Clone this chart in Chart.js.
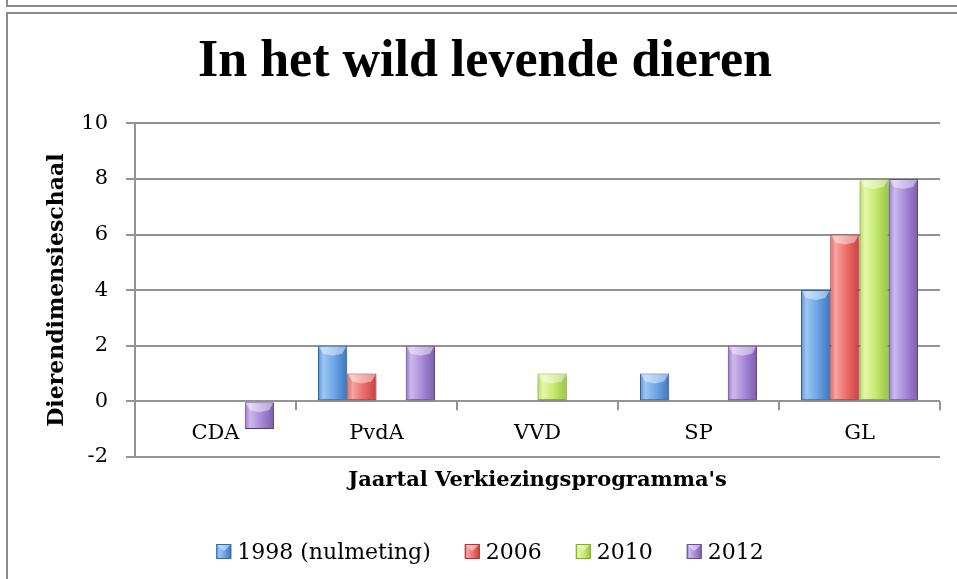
<!DOCTYPE html>
<html>
<head>
<meta charset="utf-8">
<script src="https://cdn.jsdelivr.net/npm/chart.js@4.4.1/dist/chart.umd.min.js"></script>
<style>
  html, body { margin: 0; padding: 0; background: #fff; }
  #wrap { position: relative; width: 957px; height: 579px; overflow: hidden; }
  .frame-top { position: absolute; left: 6px; top: -10px; width: 960px; height: 15px;
    border-left: 2px solid #8c8c8c; border-bottom: 2px solid #8c8c8c; }
  .frame-main { position: absolute; left: 6px; top: 12px; width: 960px; height: 600px;
    border-left: 2px solid #8c8c8c; border-top: 2px solid #8c8c8c; }
  #chart { position: absolute; left: 0; top: 0; }
</style>
</head>
<body>
<div id="wrap">
  <div class="frame-top"></div>
  <div class="frame-main"></div>
  <canvas id="chart" width="957" height="579"></canvas>
</div>
<script>
// ------------------ DATA ------------------
const categories = ["CDA", "PvdA", "VVD", "SP", "GL"];
const seriesNames = ["1998 (nulmeting)", "2006", "2010", "2012"];
const values1998 = [0, 2, 0, 1, 4];
const values2006 = [0, 1, 0, 0, 6];
const values2010 = [0, 0, 1, 0, 8];
const values2012 = [-1, 2, 0, 2, 8];
const yMin = -2;
const yMax = 10;
const yStep = 2;

// colours per series: [edge, light, mid, dark, border]
const palette = [
    ["#5a92d6", "#9cc6f2", "#6ea6e6", "#3d76c0", "#3a69a3"],
    ["#e06a67", "#f7a4a2", "#ec6e6b", "#c9403d", "#a8393a"],
    ["#b6db62", "#e2f7a6", "#c6ea72", "#98c443", "#86a83c"],
    ["#9478c6", "#cdb8ee", "#a98bd8", "#7b5cb0", "#6b5294"]
];

const textFont = "'DejaVu Serif', 'Liberation Serif', serif";
const titleFont = "'Liberation Serif', 'DejaVu Serif', serif";
const gridColor = "#939393";

// ------------------ HELPERS ------------------
function barGradient(ctx, l, r, c) {
    const g = ctx.createLinearGradient(l, 0, r, 0);
    g.addColorStop(0, c[0]);
    g.addColorStop(0.18, c[1]);
    g.addColorStop(0.55, c[2]);
    g.addColorStop(1, c[3]);
    return g;
}

function bevelTop(ctx, l, r, top, depth) {
    ctx.save();
    ctx.fillStyle = "rgba(255,255,255,0.45)";
    ctx.beginPath();
    ctx.moveTo(l, top + 1);
    ctx.lineTo(r, top + 1);
    ctx.lineTo(r - 4, top + depth);
    ctx.lineTo((l + r) / 2, top + depth + 2);
    ctx.lineTo(l + 4, top + depth);
    ctx.closePath();
    ctx.fill();
    ctx.restore();
}

// ------------------ PLUGINS ------------------
// gradient fill + soft shadow for the bars
const barLook = {
    id: "barLook",
    beforeDatasetsDraw(chart) {
        const ctx = chart.ctx;
        chart.data.datasets.forEach((ds, di) => {
            chart.getDatasetMeta(di).data.forEach(bar => {
                bar.options.backgroundColor = barGradient(ctx, bar.x - bar.width / 2, bar.x + bar.width / 2, palette[di]);
            });
        });
        ctx.save();
        ctx.shadowColor = "rgba(0,0,0,0.28)";
        ctx.shadowBlur = 6;
        ctx.shadowOffsetY = 4;
    },
    afterDatasetsDraw(chart) {
        const ctx = chart.ctx;
        ctx.restore();
        chart.data.datasets.forEach((ds, di) => {
            chart.getDatasetMeta(di).data.forEach((bar, i) => {
                const v = ds.data[i];
                if (!v) return;
                const top = v > 0 ? bar.y : bar.base;
                const depth = Math.min(8, Math.abs(bar.base - bar.y) / 2);
                bevelTop(ctx, bar.x - bar.width / 2 + 1, bar.x + bar.width / 2 - 1, top, depth);
            });
        });
    }
};

// category axis sits on the zero line, like the original
const zeroAxis = {
    id: "zeroAxis",
    afterDraw(chart) {
        const ctx = chart.ctx;
        const x = chart.scales.x;
        const y0 = chart.scales.y.getPixelForValue(0);
        const n = chart.data.labels.length;
        const step = (x.right - x.left) / n;
        ctx.save();
        ctx.strokeStyle = gridColor;
        ctx.lineWidth = 2;
        for (let i = 0; i <= n; i++) {
            const px = Math.round(x.left + i * step);
            ctx.beginPath();
            ctx.moveTo(px, y0);
            ctx.lineTo(px, y0 + 9);
            ctx.stroke();
        }
        ctx.fillStyle = "#000";
        ctx.font = "21px " + textFont;
        ctx.textAlign = "center";
        ctx.textBaseline = "alphabetic";
        chart.data.labels.forEach((lab, i) => {
            ctx.fillText(lab, x.getPixelForValue(i), y0 + 38);
        });
        ctx.restore();
    }
};

// legend drawn Excel-style (small bevelled boxes, tight gaps)
const bottomLegend = {
    id: "bottomLegend",
    afterDraw(chart) {
        const ctx = chart.ctx;
        const box = 15, gapText = 6, gapItem = 34;
        const baseline = 559;
        const centerX = 490;
        ctx.save();
        ctx.font = "22px " + textFont;
        const widths = chart.data.datasets.map(ds => ctx.measureText(ds.label).width);
        const total = widths.reduce((a, w) => a + box + gapText + w, 0) + gapItem * (widths.length - 1);
        let cx = centerX - total / 2;
        chart.data.datasets.forEach((ds, i) => {
            const top = baseline - 15;
            ctx.fillStyle = barGradient(ctx, cx, cx + box, palette[i]);
            ctx.fillRect(cx, top, box, box);
            ctx.strokeStyle = palette[i][4];
            ctx.lineWidth = 1;
            ctx.strokeRect(cx + 0.5, top + 0.5, box - 1, box - 1);
            bevelTop(ctx, cx + 1, cx + box - 1, top, 5);
            ctx.fillStyle = "#000";
            ctx.textBaseline = "alphabetic";
            ctx.textAlign = "left";
            ctx.fillText(ds.label, cx + box + gapText, baseline);
            cx += box + gapText + widths[i] + gapItem;
        });
        ctx.restore();
    }
};

// ------------------ CHART ------------------
const seriesValues = [values1998, values2006, values2010, values2012];

new Chart(document.getElementById("chart"), {
    type: "bar",
    data: {
        labels: categories,
        datasets: seriesValues.map((vals, i) => ({
            label: seriesNames[i],
            data: vals,
            backgroundColor: palette[i][2],
            borderColor: palette[i][4],
            borderWidth: ctx => (ctx.raw === 0 ? 0 : 1),
            borderSkipped: false,
            categoryPercentage: 0.727,
            barPercentage: 1.0
        }))
    },
    options: {
        responsive: false,
        animation: false,
        layout: { padding: { top: 13, left: 30, right: 17, bottom: 56 } },
        plugins: {
            title: {
                display: true,
                text: "In het wild levende dieren",
                color: "#000",
                font: { family: titleFont, size: 52, weight: "bold", lineHeight: 1.2 },
                padding: { top: 18, bottom: 30 }
            },
            legend: { display: false },
            tooltip: { enabled: false }
        },
        scales: {
            x: {
                grid: { display: false, drawTicks: false },
                border: { display: false },
                ticks: { display: false },
                title: {
                    display: true,
                    text: "Jaartal Verkiezingsprogramma's",
                    color: "#000",
                    font: { family: textFont, size: 21, weight: "bold", lineHeight: 1.2 },
                    padding: { top: 11, bottom: 30 }
                }
            },
            y: {
                min: yMin,
                max: yMax,
                afterFit: scale => {
                    scale.width = 105;
                    scale.paddingTop = 0;
                    scale.paddingBottom = 0;
                },
                ticks: {
                    stepSize: yStep,
                    color: "#000",
                    font: { family: textFont, size: 21 },
                    padding: 18
                },
                grid: { color: gridColor, lineWidth: 2, tickLength: 9 },
                border: { color: gridColor, width: 2 },
                title: {
                    display: true,
                    text: "Dierendimensieschaal",
                    color: "#000",
                    font: { family: textFont, size: 22, weight: "bold", lineHeight: 1.2 },
                    padding: { top: 14, bottom: 0 }
                }
            }
        }
    },
    plugins: [barLook, zeroAxis, bottomLegend]
});
</script>
</body>
</html>
